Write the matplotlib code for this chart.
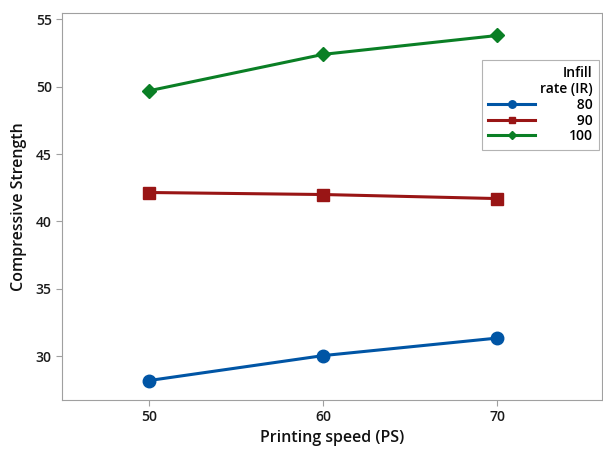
import matplotlib.pyplot as plt

# data
speed = [50, 60, 70]
ir_labels = ['80', '90', '100']
strength_80 = [28.2, 30.05, 31.35]
strength_90 = [42.15, 42.0, 41.7]
strength_100 = [49.7, 52.4, 53.8]

plt.rcParams['font.family'] = ['Open Sans', 'DejaVu Sans']

fig = plt.figure(figsize=(6.03, 4.49), dpi=100)
ax = fig.add_axes([0.103, 0.109, 0.895, 0.863])

styles = [
    ('#0055a5', 'o', 9),
    ('#991515', 's', 8),
    ('#0a7f25', 'D', 7.5),
]
for vals, lab, (col, mk, ms) in zip([strength_80, strength_90, strength_100], ir_labels, styles):
    ax.plot(speed, vals, color=col, marker=mk, markersize=ms, linewidth=2.2,
            label=lab.rjust(3, '\u2007'))

ax.set_xlim(45, 76)
ax.set_ylim(26.75, 55.5)
ax.set_xticks(speed)
ax.set_yticks([30, 35, 40, 45, 50, 55])

for s in ax.spines.values():
    s.set_color('#a0a0a0')
ax.tick_params(colors='#a0a0a0', labelcolor='#1a1a1a', labelsize=10, length=4)
for t in ax.get_xticklabels() + ax.get_yticklabels():
    t.set_fontweight('semibold')
ax.set_xlabel('Printing speed (PS)', fontsize=11.5, color='#111111', labelpad=4,
              fontweight='semibold')
ax.set_ylabel('Compressive Strength', fontsize=11.5, color='#111111', labelpad=6,
              fontweight='semibold')

leg = ax.legend(title='Infill\nrate (IR)', loc='upper right', bbox_to_anchor=(1.0, 0.885),
                fontsize=10, title_fontsize=10, frameon=True, fancybox=False,
                handlelength=3.4, markerscale=0.6, borderpad=0.45, labelspacing=0.12,
                handletextpad=2.4, borderaxespad=0.2)
leg.get_frame().set_edgecolor('#a0a0a0')
leg.get_frame().set_linewidth(0.8)
leg._legend_box.align = 'right'
plt.setp(leg.get_title(), multialignment='right', fontweight='semibold')
for t in leg.get_texts():
    t.set_fontweight('semibold')

plt.savefig('out.png', dpi=100)
